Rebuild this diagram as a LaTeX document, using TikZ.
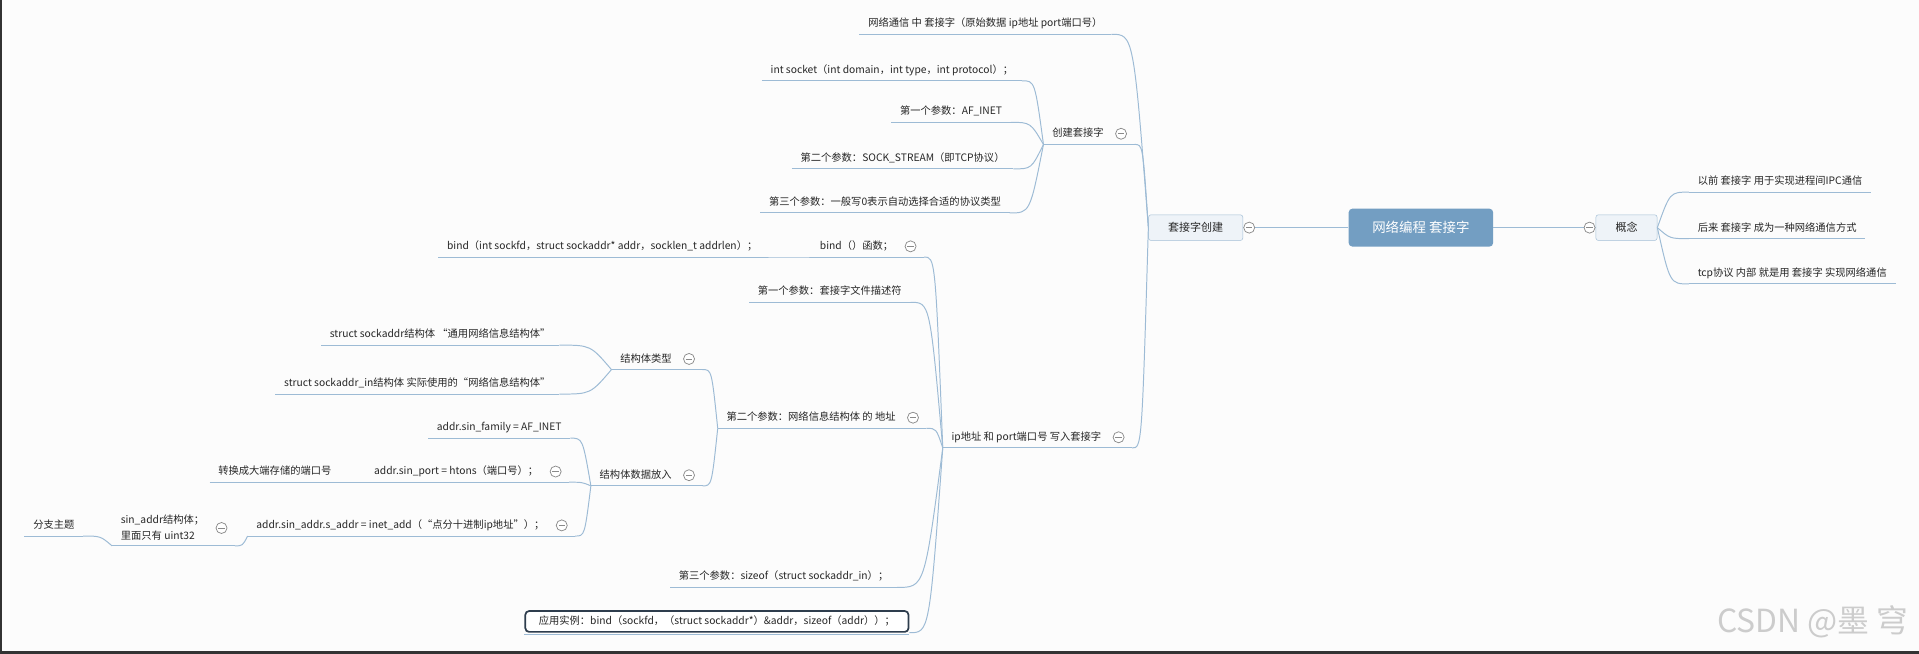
\documentclass[tikz,border=0pt]{standalone}
\usepackage{fontspec}
\setmainfont{Noto Sans CJK SC}
\usetikzlibrary{calc}
\definecolor{linkblue}{HTML}{9DBBD5}
\definecolor{rootblue}{HTML}{739EC2}
\definecolor{boxfill}{HTML}{EEF3F8}
\definecolor{boxedge}{HTML}{A3BFD6}
\definecolor{txt}{HTML}{262626}
\definecolor{foldgray}{HTML}{8A8A8A}
\definecolor{exedge}{HTML}{2E3D4D}
\definecolor{paper}{HTML}{FCFCFC}

\begin{document}
\begin{tikzpicture}[x=1pt, y=-1pt,
    root/.style = {fill=rootblue, rounded corners=3pt, text=white, font=\fontsize{11}{13}\selectfont, minimum width=118pt, minimum height=31pt},
    main/.style = {draw=boxedge, fill=boxfill, rounded corners=2pt, text=txt, font=\fontsize{9}{11}\selectfont, minimum height=21pt, inner xsep=16pt},
    leaf/.style = {anchor=south east, text=txt, font=\fontsize{8.4}{10}\selectfont, inner xsep=7pt, inner ysep=4pt},
    topic/.style = {leaf, text height=7pt, text depth=2pt},
    rtopic/.style = {topic, anchor=south west},
    fold/.style = {circle, draw=foldgray, fill=white, minimum size=9pt, inner sep=0pt, line width=0.6pt,
        path picture={\draw[foldgray, line width=0.6pt] ([xshift=-2.6pt]path picture bounding box.center) -- ([xshift=2.6pt]path picture bounding box.center);}},
    link/.style = {draw=linkblue, line width=0.8pt},
    fork/.style = {link, to path={.. controls ($(\tikztotarget)!0.6!(\tikztotarget -| \tikztostart)$) .. (\tikztotarget)}},
    example/.style = {draw=exedge, line width=1.4pt, rounded corners=3pt, fill=white, inner xsep=11pt}
]
    \fill[paper] (0,0) rectangle (1568,534);
    \useasboundingbox (0,0) rectangle (1568,534);
    \draw[black!80, line width=1.8pt] (0.9,0) -- (0.9,533.1) -- (1568,533.1);

    % root and main topics
    \node[root] (root) at (1161,186) {网络编程 套接字};
    \node[main] (cj) at (977,186) {套接字创建};
    \node[main] (gn) at (1329,186) {概念};

    % concept branch
    \node[rtopic] (r1) at (1380,157) {以前 套接字 用于实现进程间IPC通信};
    \node[rtopic] (r2) at (1380,195) {后来 套接字 成为一种网络通信方式};
    \node[rtopic] (r3) at (1380,232) {tcp协议 内部 就是用 套接字 实现网络通信};

    % socket creation branch
    \node[topic] (tw) at (908,28) {网络通信 中 套接字（原始数据 ip地址 port端口号）};
    \node[topic] (cs) at (927,118) {创建套接字\hspace*{18pt}};
    \node[topic] (ip) at (925,366) {ip地址 和 port端口号 写入套接字\hspace*{18pt}};

    \node[topic] (is) at (835,66) {int socket（int domain，int type，int protocol）；};
    \node[topic] (a1) at (826,100) {第一个参数：AF\_INET};
    \node[topic] (a2) at (828,138) {第二个参数：SOCK\_STREAM（即TCP协议）};
    \node[topic] (a3) at (825,174) {第三个参数：一般写0表示自动选择合适的协议类型};

    % bind
    \node[topic] (bf) at (755,210) {bind（）函数；\hspace*{18pt}};
    \node[topic] (bs) at (626,210) {bind（int sockfd，struct sockaddr* addr，socklen\_t addrlen）；};
    \node[topic] (b1) at (744,247) {第一个参数：套接字文件描述符};
    \node[topic] (b2) at (757,350) {第二个参数：网络信息结构体 的 地址\hspace*{18pt}};
    \node[topic] (b3) at (733,480) {第三个参数：sizeof（struct sockaddr\_in）；};
    \node[topic, example] (ex) at (743,517) {应用实例：bind（sockfd，（struct sockaddr*）\&addr，sizeof（addr））；};

    \node[topic] (st) at (574,302) {结构体类型\hspace*{18pt}};
    \node[topic] (sd) at (574,397) {结构体数据放入\hspace*{18pt}};
    \node[topic] (sa) at (457,282) {struct sockaddr结构体 “通用网络信息结构体”};
    \node[topic] (sb) at (457,322) {struct sockaddr\_in结构体 实际使用的“网络信息结构体”};
    \node[topic] (sf) at (466,358) {addr.sin\_family = AF\_INET};
    \node[topic] (sp) at (465,394) {addr.sin\_port = htons（端口号）；\hspace*{18pt}};
    \node[topic] (tp) at (278,394) {转换成大端存储的端口号};
    \node[topic] (sx) at (470,438) {addr.sin\_addr.s\_addr = inet\_add（“点分十进制ip地址”）；\hspace*{18pt}};
    \node[leaf, align=left, font=\fontsize{8.4}{13}\selectfont] (sn) at (192,446) {sin\_addr结构体；\hspace*{18pt}\\里面只有 uint32\hspace*{18pt}};
    \node[topic] (fz) at (68,438) {分支主题};

    % underlines
    \foreach \n in {r1,r2,r3,tw,cs,ip,is,a1,a2,a3,bf,bs,b1,b2,b3,st,sd,sa,sb,sf,sp,tp,sx,sn,fz}
        \draw[link] (\n.south west) -- (\n.south east);
    \draw[link] ([yshift=-1.5pt]ex.south west) -- ([yshift=-1.5pt]ex.south east);

    % connectors
    \draw[link] (root.west) -- (cj.east);
    \draw[link] (root.east) -- (gn.west);
    \foreach \c in {r1,r2,r3}
        \draw[fork] (gn.east) to (\c.south west);
    \foreach \c in {tw,cs,ip}
        \draw[fork] (cj.west) to (\c.south east);
    \foreach \c in {is,a1,a2,a3}
        \draw[fork] (cs.south west) to (\c.south east);
    \foreach \c in {bf,b1,b2,b3,ex}
        \draw[fork] (ip.south west) to (\c.south east);
    \draw[fork] (bf.south west) to (bs.south east);
    \foreach \c in {st,sd}
        \draw[fork] (b2.south west) to (\c.south east);
    \foreach \c in {sa,sb}
        \draw[fork] (st.south west) to (\c.south east);
    \foreach \c in {sf,sp,sx}
        \draw[fork] (sd.south west) to (\c.south east);
    \draw[fork] (sp.south west) to (tp.south east);
    \draw[fork] (sx.south west) to (sn.south east);
    \draw[fork] (sn.south west) to (fz.south east);

    % fold buttons
    \node[fold] (cjf) at ([xshift=5pt]cj.east) {};
    \node[fold] (gnf) at ([xshift=-5pt]gn.west) {};
    \foreach \n in {cs,ip,bf,b2,st,sd,sp,sx,sn}
        \node[fold] at ([xshift=-11pt]\n.east) {};

    % watermark
    \node[text=gray!40, font=\fontsize{26}{30}\selectfont, anchor=east] (wm) at (1563,508) {CSDN @墨 穹};
\end{tikzpicture}
\end{document}
